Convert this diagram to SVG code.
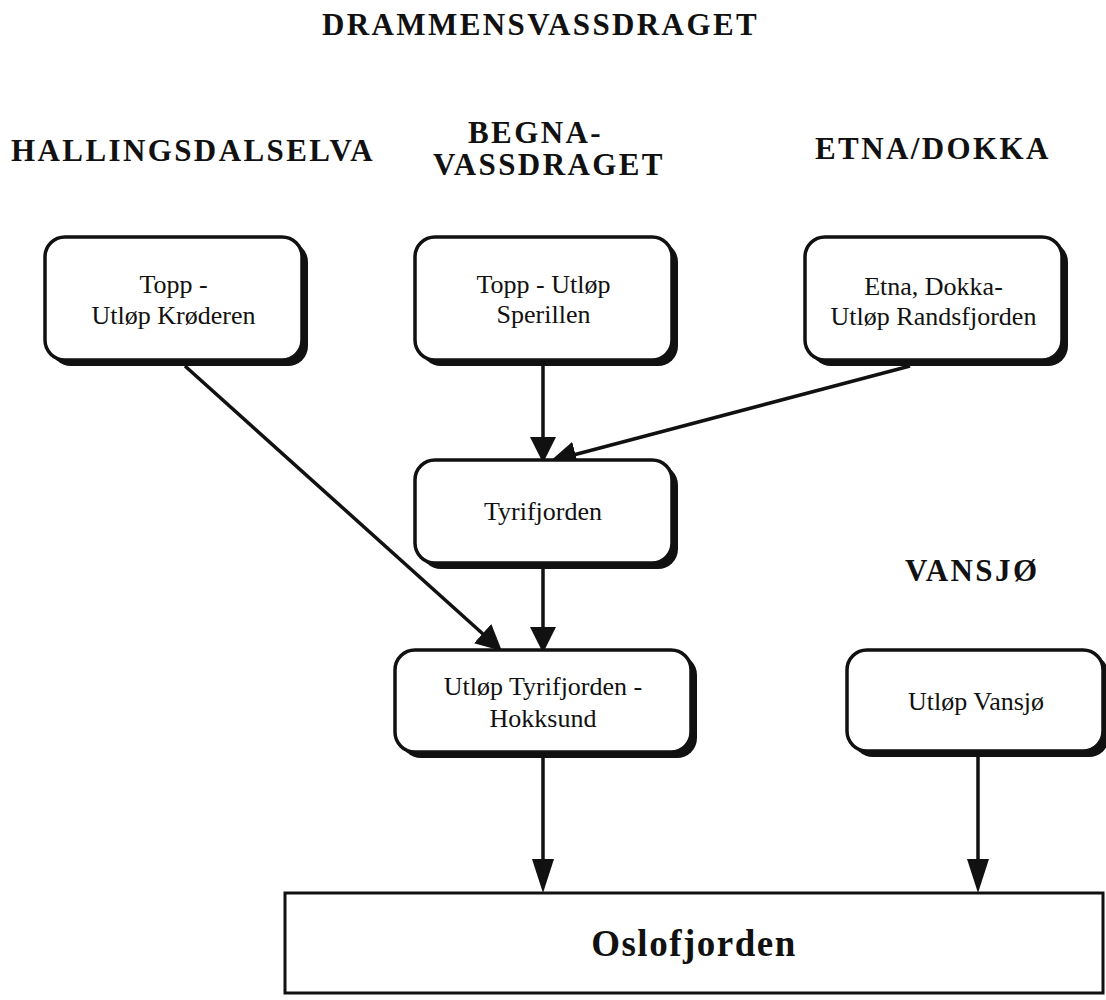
<svg xmlns="http://www.w3.org/2000/svg" width="1106" height="1000" viewBox="0 0 1106 1000">
<defs>
<style>
.hdr{font-family:"Liberation Serif","Times New Roman",serif;font-weight:bold;font-size:31px;letter-spacing:2.4px;fill:#111}
.lbl{font-family:"Liberation Serif","Times New Roman",serif;font-size:26px;fill:#111;text-anchor:middle}
.box{fill:#fff;stroke:#111;stroke-width:3.5}
.shadow{fill:#111}
.conn{stroke:#111;stroke-width:3.5;fill:none}
</style>
<marker id="ah" markerUnits="userSpaceOnUse" markerWidth="26" markerHeight="26" viewBox="0 0 26 26" refX="14" refY="13" orient="auto">
<path d="M0,0 L26,13 L0,26 z" fill="#111"/>
</marker>
<marker id="ah2" markerUnits="userSpaceOnUse" markerWidth="34" markerHeight="22" viewBox="0 0 34 22" refX="20" refY="11" orient="auto">
<path d="M0,0 L34,11 L0,22 z" fill="#111"/>
</marker>
</defs>
<rect width="1106" height="1000" fill="#fff"/>
<g id="headers">
<text class="hdr" x="322" y="35">DRAMMENSVASSDRAGET</text>
<text class="hdr" x="11" y="161">HALLINGSDALSELVA</text>
<text class="hdr" x="468" y="143">BEGNA-</text>
<text class="hdr" x="433" y="175">VASSDRAGET</text>
<text class="hdr" x="815" y="159">ETNA/DOKKA</text>
<text class="hdr" x="905" y="581">VANSJØ</text>
</g>
<g id="connectors">
<line class="conn" x1="185" y1="366" x2="493" y2="643" marker-end="url(#ah)"/>
<line class="conn" x1="543" y1="366" x2="543" y2="451" marker-end="url(#ah)"/>
<line class="conn" x1="910" y1="366" x2="562" y2="458" marker-end="url(#ah)"/>
<line class="conn" x1="543" y1="568" x2="543" y2="641" marker-end="url(#ah)"/>
<line class="conn" x1="543" y1="758" x2="543" y2="879" marker-end="url(#ah2)"/>
<line class="conn" x1="978" y1="756" x2="978" y2="879" marker-end="url(#ah2)"/>
</g>
<g id="n1">
<rect class="shadow" x="51" y="242" width="257" height="124" rx="20"/>
<rect class="box" x="45" y="237" width="257" height="123" rx="20"/>
<text class="lbl" x="173.5" y="293">Topp -</text>
<text class="lbl" x="173.5" y="324">Utløp Krøderen</text>
</g>
<g id="n2">
<rect class="shadow" x="421" y="242" width="257" height="124" rx="20"/>
<rect class="box" x="415" y="237" width="257" height="123" rx="20"/>
<text class="lbl" x="543.5" y="293">Topp - Utløp</text>
<text class="lbl" x="543.5" y="323">Sperillen</text>
</g>
<g id="n3">
<rect class="shadow" x="811" y="242" width="257" height="124" rx="20"/>
<rect class="box" x="805" y="237" width="257" height="123" rx="20"/>
<text class="lbl" x="933.5" y="295">Etna, Dokka-</text>
<text class="lbl" x="933.5" y="325">Utløp Randsfjorden</text>
</g>
<g id="n4">
<rect class="shadow" x="421" y="465" width="257" height="104" rx="20"/>
<rect class="box" x="415" y="460" width="257" height="103" rx="20"/>
<text class="lbl" x="543" y="520">Tyrifjorden</text>
</g>
<g id="n5">
<rect class="shadow" x="401" y="655" width="296" height="103" rx="20"/>
<rect class="box" x="395" y="650" width="296" height="102" rx="20"/>
<text class="lbl" x="543" y="695">Utløp Tyrifjorden -</text>
<text class="lbl" x="543" y="727">Hokksund</text>
</g>
<g id="n6">
<rect class="shadow" x="853" y="655" width="256" height="102" rx="20"/>
<rect class="box" x="847" y="650" width="256" height="101" rx="20"/>
<text class="lbl" x="976" y="710">Utløp Vansjø</text>
</g>
<g id="n7">
<rect x="285" y="893" width="818" height="100" fill="#fff" stroke="#111" stroke-width="3"/>
<text x="694" y="956" text-anchor="middle" font-family="'Liberation Serif','Times New Roman',serif" font-weight="bold" font-size="37" letter-spacing="1.5" fill="#111">Oslofjorden</text>
</g>
</svg>
